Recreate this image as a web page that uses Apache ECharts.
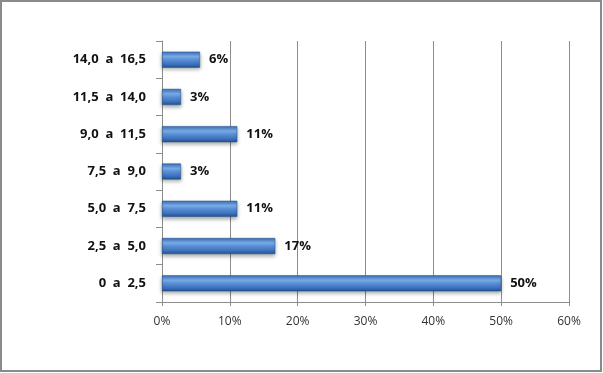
<!DOCTYPE html>
<html><head><meta charset="utf-8">
<script src="https://cdn.jsdelivr.net/npm/echarts@6/dist/echarts.min.js"></script>
<style>html,body{margin:0;padding:0;background:#fff}#c{width:603px;height:373px}</style>
</head><body><div id="c"></div>
<script>
var categories = ['0  a  2,5', '2,5  a  5,0', '5,0  a  7,5', '7,5  a  9,0', '9,0  a  11,5', '11,5  a  14,0', '14,0  a  16,5'];
var values = [50.0, 16.7, 11.1, 2.8, 11.1, 2.8, 5.6];
var tickLabels = ['0%', '10%', '20%', '30%', '40%', '50%', '60%'];

var chart = echarts.init(document.getElementById('c'), null, {renderer: 'canvas'});
var barGrad = new echarts.graphic.LinearGradient(0, 0, 0, 1, [
  {offset: 0, color: '#3a6fb8'},
  {offset: 0.3, color: '#7aaee9'},
  {offset: 0.5, color: '#5a8fd6'},
  {offset: 0.8, color: '#3b71bb'},
  {offset: 1, color: '#22508c'}
]);
chart.setOption({
  animation: false,
  graphic: [{type: 'rect', shape: {x: 1, y: 1, width: 600, height: 370}, style: {fill: 'none', stroke: '#8a8a8a', lineWidth: 2}, z: 100}],
  grid: {left: 162, right: 34, top: 41, bottom: 71},
  xAxis: {
    type: 'value', min: 0, max: 60, interval: 10,
    axisLine: {show: true, lineStyle: {color: '#8c8c8c'}},
    axisTick: {show: true, length: 4, lineStyle: {color: '#8c8c8c'}},
    splitLine: {show: true, lineStyle: {color: '#8c8c8c', width: 1}},
    axisLabel: {formatter: function (v) { return tickLabels[v / 10]; }, color: '#333', fontFamily: 'Open Sans', fontSize: 12, margin: 14}
  },
  yAxis: {
    type: 'category', data: categories,
    axisLine: {show: true, lineStyle: {color: '#8c8c8c'}},
    axisTick: {show: true, length: 6, lineStyle: {color: '#8c8c8c'}},
    axisLabel: {color: '#111', fontFamily: 'Open Sans', fontSize: 13, fontWeight: 'bold', margin: 16}
  },
  series: [{
    type: 'bar', data: values, barWidth: 16,
    itemStyle: {color: barGrad, borderColor: '#244f8a', borderWidth: 0.5, shadowColor: 'rgba(0,0,0,0.35)', shadowBlur: 4, shadowOffsetY: 2},
    label: {show: true, position: 'right', distance: 9, color: '#111', fontFamily: 'Open Sans', fontSize: 13, fontWeight: 'bold',
      formatter: function (p) { return Math.round(p.value) + '%'; }}
  }]
});
</script></body></html>
